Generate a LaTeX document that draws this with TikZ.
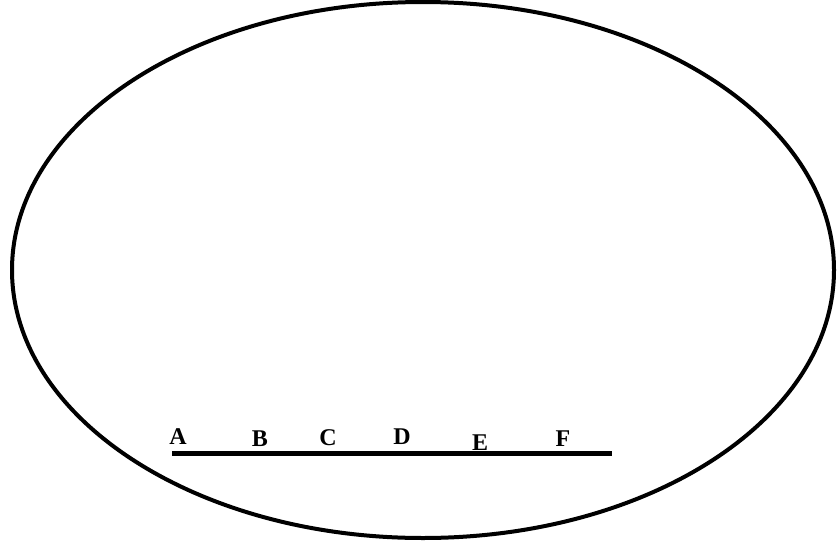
\documentclass[tikz,border=0pt]{standalone}
\usepackage{fontspec}
\setmainfont{Liberation Serif}
\usepackage{tikz}
\usetikzlibrary{positioning}

\begin{document}
\begin{tikzpicture}[
  x=1pt, y=-1pt,
  rim/.style={draw=black, line width=4pt},
  baseline/.style={draw=black, line width=5pt},
  letter/.style={inner sep=0pt, font=\fontsize{24}{28}\selectfont\bfseries}
]
\useasboundingbox (0,0) rectangle (838,549);
\draw[rim] (423,270) ellipse [x radius=411, y radius=268];
\coordinate (left) at (172,453);
\coordinate (right) at (612,453);
\draw[baseline] (left) -- (right);
\node[letter] (a) at (178,437) {A};
\node[letter] (b) at (260,439) {B};
\node[letter] (c) at (328,438) {C};
\node[letter] (d) at (402,437) {D};
\node[letter] (e) at (480,443) {E};
\node[letter] (f) at (563,439) {F};
\end{tikzpicture}
\end{document}
